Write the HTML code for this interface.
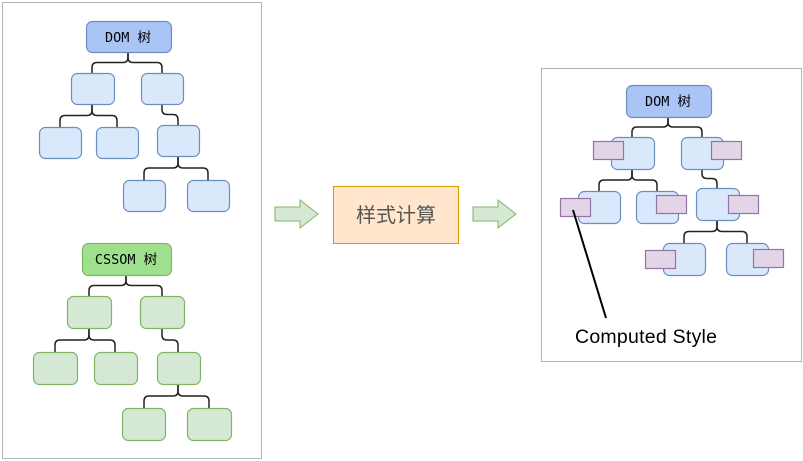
<!DOCTYPE html>
<html><head><meta charset="utf-8"><style>
html,body{margin:0;padding:0;background:#fff;width:803px;height:461px;overflow:hidden}
svg{display:block}
</style></head><body>
<svg id="s" width="803" height="461" viewBox="0 0 803 461" xmlns="http://www.w3.org/2000/svg" style="position:absolute;left:0;top:0">
<rect x="2.5" y="2.5" width="259" height="456" fill="#fff" stroke="#b3b3b3"/>
<rect x="541.5" y="68.5" width="260" height="293" fill="#fff" stroke="#b3b3b3"/>
<g id="g"></g>
<path d="M275,207 H300 V200 L318,214 L300,228 V221 H275 Z" fill="#d5e8d4" stroke="#82b366"/>
<path d="M473,207 H498 V200 L516,214 L498,228 V221 H473 Z" fill="#d5e8d4" stroke="#82b366"/>
<rect x="333.5" y="186.5" width="125" height="57" fill="#ffe6cc" stroke="#d79b00"/>
<text x="396" y="222" text-anchor="middle" font-size="20" fill="#555" style="font-family:'Noto Sans CJK SC',sans-serif">样式计算</text>
<line x1="573" y1="210" x2="606" y2="318" stroke="#000" stroke-width="2"/>
<text x="575" y="343" font-size="19.5" fill="#000" textLength="142" style="font-family:'Liberation Sans',sans-serif">Computed Style</text>
<text x="128" y="42" text-anchor="middle" font-size="13.5" fill="#000" font-family="DejaVu Sans Mono, Noto Sans CJK SC, monospace">DOM 树</text>
<text x="126" y="264" text-anchor="middle" font-size="13.5" fill="#000" font-family="DejaVu Sans Mono, Noto Sans CJK SC, monospace">CSSOM 树</text>
<text x="668" y="106" text-anchor="middle" font-size="13.5" fill="#000" font-family="DejaVu Sans Mono, Noto Sans CJK SC, monospace">DOM 树</text>
</svg>
<script>
const g=document.getElementById('g');let h='';
function box(x1,y1,x2,y2,f,s){h+=`<rect x="${x1+.5}" y="${y1+.5}" width="${x2-x1}" height="${y2-y1}" rx="6" fill="${f}" stroke="${s}" stroke-width="1.2"/>`;}
function sq(x1,y1,x2,y2){h+=`<rect x="${x1+.5}" y="${y1+.5}" width="${x2-x1}" height="${y2-y1}" fill="#e1d5e7" stroke="#9673a6" stroke-width="1.2"/>`;}
function e(px,py,cx,cy){const my=(py+cy)/2,r=5;let d;
if(Math.abs(cx-px)<2)d=`M${px},${py}V${cy}`;else{const s=cx>px?1:-1;
d=`M${px},${py}V${my-r}Q${px},${my} ${px+s*r},${my}H${cx-s*r}Q${cx},${my} ${cx},${my+r}V${cy}`;}
h+=`<path d="${d}" fill="none" stroke="#222" stroke-width="1.5"/>`;}
const B='#dae8fc',BS='#6c8ebf',G='#d5e8d4',GS='#82b366';
e(128,52,92,73);e(128,52,162,73);e(92,104,60,127);e(92,104,117,127);e(162,104,178,125);e(178,156,144,180);e(178,156,208,180);
box(86,21,171,52,'#a9c4f5',BS);
[[71,73,114,104],[141,73,183,104],[39,127,81,158],[96,127,138,158],[157,125,199,156],[123,180,165,211],[187,180,229,211]].forEach(b=>box(...b,B,BS));
e(126,275,89,296);e(126,275,162,296);e(89,328,55,352);e(89,328,115,352);e(162,328,178,352);e(178,384,144,408);e(178,384,209,408);
box(82,243,171,275,'#9ee08e',GS);
[[67,296,111,328],[140,296,184,328],[33,352,77,384],[94,352,137,384],[157,352,200,384],[122,408,165,440],[187,408,231,440]].forEach(b=>box(...b,G,GS));
e(668,117,632,137);e(668,117,702,137);e(632,169,599,191);e(632,169,657,191);e(702,169,717,188);e(717,220,684,243);e(717,220,747,243);
box(626,85,711,117,'#a9c4f5',BS);
[[611,137,654,169],[681,137,723,169],[578,191,620,223],[636,191,678,223],[696,188,739,220],[663,243,705,275],[726,243,768,275]].forEach(b=>box(...b,B,BS));
[[593,141,623,159],[711,141,741,159],[560,198,590,216],[656,195,686,213],[728,195,758,213],[645,250,675,268],[753,249,783,267]].forEach(b=>sq(...b));
g.innerHTML=h;
</script>
</body></html>
